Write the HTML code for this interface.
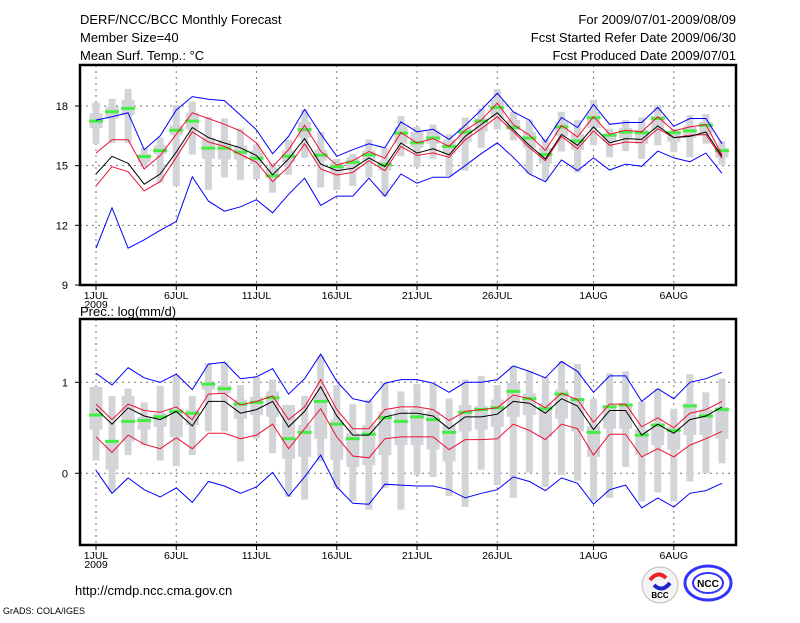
<!DOCTYPE html>
<html><head><meta charset="utf-8"><style>
body{margin:0;background:#fff;width:800px;height:618px;overflow:hidden}
svg text{font-family:"Liberation Sans",sans-serif;fill:#000}
</style></head><body>
<svg id="c" width="800" height="618" xmlns="http://www.w3.org/2000/svg">
<text x="80" y="24" font-size="13">DERF/NCC/BCC Monthly Forecast</text>
<text x="80" y="42" font-size="13">Member Size=40</text>
<text x="80" y="60" font-size="13">Mean Surf. Temp.: °C</text>
<text x="736" y="24" font-size="13" text-anchor="end">For 2009/07/01-2009/08/09</text>
<text x="736" y="42" font-size="13" text-anchor="end">Fcst Started Refer Date 2009/06/30</text>
<text x="736" y="60" font-size="13" text-anchor="end">Fcst Produced Date 2009/07/01</text>
<text x="80" y="316" font-size="13">Prec.: log(mm/d)</text>
<text x="75" y="595" font-size="13">http://cmdp.ncc.cma.gov.cn</text>
<text x="3" y="614" font-size="9">GrADS: COLA/IGES</text>
<g>
<circle cx="660" cy="585" r="18" fill="#f4f4f4" stroke="#bbb"/>
<path d="M650 580 q8 -10 16 -2" stroke="#e22" stroke-width="4" fill="none"/>
<path d="M654 585 q8 8 16 -2" stroke="#22c" stroke-width="4" fill="none"/>
<text x="660" y="598" font-size="8" font-weight="bold" text-anchor="middle" fill="#223">BCC</text>
</g>
<g>
<ellipse cx="708" cy="583" rx="23" ry="17" fill="none" stroke="#33f" stroke-width="3"/>
<ellipse cx="708" cy="583" rx="15" ry="10" fill="none" stroke="#33f" stroke-width="2"/>
<text x="708" y="587" font-size="10" font-weight="bold" text-anchor="middle" fill="#22e">NCC</text>
</g>
</svg>
<script>
const days = 40;
const tickLabels = ["1JUL","6JUL","11JUL","16JUL","21JUL","26JUL","1AUG","6AUG"];
const tickDays = [0,5,10,15,20,25,31,36];
// top panel: temperature
const tTicks = [9,12,15,18];
const tMax = [17.29,17.46,17.66,15.8,16.5,17.8,18.47,18.34,18.27,17.54,16.8,15.6,16.47,17.83,16.6,15.47,15.8,16.1,15.9,17.2,16.7,16.83,16.32,17.03,17.8,18.64,17.71,17.29,16.19,17.42,16.92,18.08,17.08,17.17,17.17,17.93,16.98,17.37,17.37,16.1];
const tMin = [10.85,12.88,10.85,11.27,11.75,12.2,14.44,13.22,12.71,12.93,13.29,12.63,13.56,14.37,13.0,13.47,13.47,14.37,13.47,14.58,14.12,14.42,14.42,15.0,15.6,16.15,15.42,14.58,14.19,15.29,14.75,15.39,14.78,15.08,14.97,15.73,15.39,15.2,15.63,14.61];
const tMean = [14.58,15.47,15.12,14.07,14.58,15.68,16.92,16.41,16.14,15.9,15.51,14.54,15.34,16.36,15.08,14.75,14.86,15.39,14.95,16.14,15.63,15.85,15.54,16.47,17.07,17.66,16.81,16.02,15.34,16.57,16.02,16.95,16.15,16.36,16.32,17.0,16.41,16.47,16.69,15.46];
const tHi = [15.63,16.3,16.3,14.83,15.51,16.58,17.66,17.37,17.08,16.75,16.14,14.95,15.8,17.03,15.73,15.03,15.25,15.71,15.37,16.66,16.14,16.36,15.97,16.78,17.29,18.14,17.07,16.53,15.76,17.03,16.44,17.46,16.58,16.78,16.7,17.46,16.75,16.95,17.07,15.54];
const tLo = [13.98,14.95,14.69,13.73,14.2,15.42,16.7,16.19,15.97,15.56,15.17,14.2,14.95,16.1,14.83,14.53,14.66,15.25,14.75,15.97,15.51,15.64,15.42,16.3,16.86,17.46,16.7,15.9,15.25,16.47,15.85,16.75,16.02,16.19,16.15,16.86,16.41,16.53,16.56,15.37];
const tObs = [17.24,17.71,17.88,15.46,15.76,16.78,17.24,15.88,15.88,15.68,15.37,14.49,15.47,16.81,15.53,14.95,15.17,15.54,15.05,16.64,16.15,16.39,15.97,16.69,17.24,17.92,16.92,16.39,15.56,16.95,16.24,17.41,16.53,16.69,16.66,17.37,16.66,16.75,17.03,15.76];
const tWT = [18.17,18.36,18.86,15.9,16.41,18.05,18.22,17.46,17.37,16.86,16.07,15.12,16.31,17.83,16.69,15.34,15.59,16.31,15.88,17.49,16.95,17.07,16.58,17.42,17.88,18.85,17.71,17.32,16.36,17.71,17.29,18.31,16.86,17.29,17.42,18.05,16.86,17.54,17.59,16.24];
const tBT = [17.63,17.97,18.31,15.59,16.02,17.03,17.66,16.41,16.27,16.02,15.76,14.83,15.76,17.2,15.8,15.17,15.42,15.76,15.25,16.95,16.7,16.75,16.3,16.9,17.4,18.3,17.3,16.7,15.9,17.2,16.6,17.7,16.6,16.9,16.8,17.5,16.7,17.0,17.2,15.9];
const tBB = [16.9,17.37,17.54,15.17,15.59,16.53,16.83,15.34,15.31,15.31,15.08,14.41,15.17,16.41,15.25,14.66,14.83,15.25,14.75,16.1,15.9,16.1,15.6,16.2,16.7,17.4,16.8,15.9,15.1,16.5,15.8,16.9,16.2,16.4,16.1,16.8,16.2,16.4,16.6,15.4];
const tWB = [16.1,16.14,16.14,14.92,14.15,13.98,15.56,13.78,14.41,14.29,14.32,13.64,14.54,15.39,13.9,13.78,13.98,14.41,13.44,15.47,14.92,15.34,14.49,14.75,15.9,16.81,16.27,14.58,14.24,15.71,14.66,16.02,15.42,15.73,15.34,16.02,15.68,15.42,16.1,15.05];
// bottom panel: precipitation log
const pTicks = [0,1];
const pMax = [1.10,0.97,1.16,1.05,1.0,1.09,0.92,1.20,1.22,1.04,1.06,1.15,0.87,1.04,1.31,1.01,0.82,0.78,0.99,1.03,1.03,0.99,0.89,1.0,1.0,1.03,1.18,1.12,1.05,1.23,1.12,0.89,1.07,1.07,0.79,0.93,0.82,1.0,1.04,1.11];
const pMin = [0.03,-0.22,-0.05,-0.18,-0.26,-0.16,-0.32,-0.09,-0.14,-0.22,-0.15,0.01,-0.25,-0.04,0.20,-0.15,-0.33,-0.34,-0.12,-0.13,-0.14,-0.14,-0.18,-0.27,-0.22,-0.18,-0.04,-0.09,-0.19,-0.05,-0.11,-0.34,-0.18,-0.13,-0.38,-0.27,-0.37,-0.22,-0.19,-0.11];
const pMean = [0.71,0.54,0.72,0.63,0.59,0.68,0.52,0.79,0.79,0.66,0.70,0.79,0.51,0.68,0.95,0.63,0.42,0.42,0.62,0.66,0.66,0.63,0.49,0.62,0.62,0.65,0.79,0.77,0.66,0.82,0.74,0.48,0.69,0.69,0.42,0.54,0.44,0.59,0.63,0.73];
const pHi = [0.76,0.59,0.76,0.69,0.67,0.73,0.59,0.87,0.88,0.75,0.79,0.85,0.59,0.73,1.03,0.70,0.49,0.49,0.70,0.73,0.73,0.70,0.58,0.68,0.70,0.72,0.86,0.82,0.72,0.88,0.81,0.56,0.76,0.76,0.51,0.61,0.50,0.66,0.70,0.79];
const pLo = [0.40,0.23,0.42,0.32,0.27,0.39,0.27,0.44,0.44,0.38,0.42,0.54,0.27,0.49,0.71,0.40,0.19,0.17,0.38,0.40,0.40,0.40,0.26,0.37,0.37,0.38,0.54,0.47,0.37,0.54,0.49,0.20,0.43,0.43,0.18,0.27,0.18,0.31,0.38,0.46];
const pObs = [0.64,0.35,0.57,0.58,0.62,0.68,0.66,0.98,0.93,0.76,0.78,0.83,0.38,0.45,0.79,0.54,0.38,0.43,0.61,0.57,0.62,0.59,0.45,0.67,0.70,0.72,0.90,0.82,0.71,0.87,0.81,0.45,0.73,0.75,0.42,0.53,0.47,0.74,0.63,0.70];
const pWT = [0.95,0.85,0.93,0.78,0.96,1.08,0.85,1.21,1.22,0.97,1.06,1.03,0.75,0.85,1.29,0.97,0.76,0.81,1.0,0.90,0.98,0.98,0.82,1.03,1.07,0.97,1.18,1.12,1.06,1.23,1.20,0.82,1.10,1.12,0.79,0.93,0.71,1.09,0.89,1.04];
const pBT = [0.95,0.37,0.85,0.62,0.66,0.71,0.70,0.99,0.97,0.81,0.84,0.90,0.75,0.53,0.88,0.59,0.44,0.53,0.68,0.70,0.71,0.68,0.53,0.75,0.74,0.81,0.99,0.88,0.77,0.92,0.82,0.52,0.75,0.77,0.48,0.55,0.51,0.77,0.70,0.73];
const pBB = [0.48,0.04,0.35,0.48,0.51,0.40,0.53,0.92,0.88,0.60,0.64,0.62,0.16,0.18,0.38,0.15,0.07,0.09,0.20,0.31,0.31,0.26,0.13,0.46,0.48,0.51,0.62,0.64,0.40,0.60,0.46,0.18,0.49,0.49,0.20,0.31,0.26,0.42,0.42,0.38];
const pWB = [0.14,-0.20,0.20,0.31,0.14,0.08,0.20,0.46,0.46,0.13,0.38,0.22,-0.26,-0.29,0.13,-0.16,-0.31,-0.40,-0.16,-0.40,-0.02,-0.04,-0.25,-0.37,0.04,-0.13,-0.27,0.01,-0.15,-0.02,-0.08,-0.31,-0.27,0.07,-0.31,-0.21,-0.31,-0.09,0.0,0.11];

const NS="http://www.w3.org/2000/svg";
const svg=document.getElementById('c');
function mk(tag,attrs,parent){const e=document.createElementNS(NS,tag);for(const k in attrs)e.setAttribute(k,attrs[k]);(parent||svg).appendChild(e);return e;}
const X0=80,X1=736;
function xs(d){return 96+d*16.05;}
const panels=[
 {top:65,bot:285,y:v=>285-(v-9)*19.89,ticks:tTicks,name:'temperature',
  max:tMax,min:tMin,mean:tMean,hi:tHi,lo:tLo,obs:tObs,wt:tWT,bt:tBT,bb:tBB,wb:tWB,lab:289},
 {top:319,bot:545,y:v=>473.3-v*91,ticks:pTicks,name:'precipitation',
  max:pMax,min:pMin,mean:pMean,hi:pHi,lo:pLo,obs:pObs,wt:pWT,bt:pBT,bb:pBB,wb:pWB,lab:549}
];
panels.forEach(p=>{
 const g=mk('g',{});
 
 
 tickDays.forEach((d,i)=>{
  const l=mk('line',{x1:xs(d),x2:xs(d),y1:p.top,y2:p.bot,stroke:'#777','stroke-dasharray':'2,4'},g);
  
  
  mk('line',{x1:xs(d),x2:xs(d),y1:p.bot,y2:p.bot+5,stroke:'#000'},g);
  const t=mk('text',{x:xs(d),y:p.lab+10,'font-size':10.5,'text-anchor':'middle'},g);
  t.textContent=tickLabels[i];
  
  
 });
 const yr=mk('text',{x:xs(0),y:p.lab+19,'font-size':10.5,'text-anchor':'middle'},g);
 yr.textContent='2009';
 
 
 p.ticks.forEach(v=>{
  const y=p.y(v);
  if(y>p.top+2&&y<p.bot-2){
   const l=mk('line',{x1:X0,x2:X1,y1:y,y2:y,stroke:'#777','stroke-dasharray':'2,4'},g);
   
   
  }
  mk('line',{x1:X0-5,x2:X0,y1:y,y2:y,stroke:'#000'},g);
  const t=mk('text',{x:X0-12,y:y+4,'font-size':11,'text-anchor':'end'},g);
  t.textContent=v;
  
  
 });
 for(let d=0;d<days;d++){
  const x=xs(d);
  const w=mk('rect',{x:x-3.5,y:p.y(p.wt[d]),width:7,height:p.y(p.wb[d])-p.y(p.wt[d]),fill:'#d3d4d8'},g);
  
  
  const b=mk('rect',{x:x-6.5,y:p.y(p.bt[d]),width:13,height:Math.max(1,p.y(p.bb[d])-p.y(p.bt[d])),fill:'#d3d4d8'},g);
  
  
 }
 for(let d=0;d<days;d++){
  const o=mk('rect',{x:xs(d)-7,y:p.y(p.obs[d])-1.5,width:14,height:3,fill:'#44ee44'},g);
  
  
 }
 const series=[[p.max,'#0000ff','max-line'],[p.min,'#0000ff','min-line'],[p.hi,'#ee1133','upper-line'],[p.lo,'#ee1133','lower-line'],[p.mean,'#000','mean-line']];
 series.forEach(s=>{
  const pts=s[0].map((v,d)=>xs(d).toFixed(1)+','+p.y(v).toFixed(1)).join(' ');
  const pl=mk('polyline',{points:pts,fill:'none',stroke:s[1],'stroke-width':1},g);
  
  
 });
 const fr=mk('rect',{x:X0,y:p.top,width:X1-X0,height:p.bot-p.top,fill:'none',stroke:'#000','stroke-width':2.5},g);
 
 
});
</script>
</body></html>
